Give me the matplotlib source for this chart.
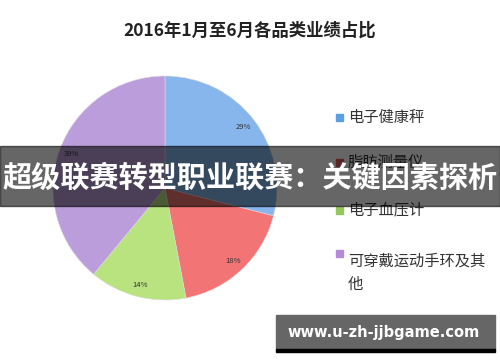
import matplotlib.pyplot as plt
from matplotlib.patches import Rectangle

plt.rcParams['font.family'] = ['Noto Sans CJK SC', 'DejaVu Sans']

# 数据
categories = ['电子健康秤', '脂肪测量仪', '电子血压计', '可穿戴运动手环及其\n他']
shares = [29, 18, 14, 39]
colors = ['#86b6ec', '#f27474', '#b9e37f', '#bb9ddb']
legend_colors = ['#5b9ee6', '#e05a5a', '#94c85a', '#b58ad8']
title = '2016年1月至6月各品类业绩占比'
banner = '超级联赛转型职业联赛：关键因素探析'
watermark = 'www.u-zh-jjbgame.com'

W, H = 500, 362
fig = plt.figure(figsize=(W / 100, H / 100), dpi=100)
fig.patch.set_facecolor('white')

# 饼图 (中心约在 165,188, 半径 112 px)
ax = fig.add_axes([53 / W, (H - 300) / H, 224 / W, 224 / H])
wedges, texts, autotexts = ax.pie(
    shares, colors=colors, startangle=90, counterclock=False,
    autopct='%d%%', pctdistance=0.89,
    wedgeprops=dict(edgecolor='#dddddd', linewidth=0.4),
    textprops=dict(fontsize=5.5, color='#333333'))
ax.set_xlim(-1.0, 1.0)
ax.set_ylim(-1.0, 1.0)
ax.set_aspect('equal')

fig.text(250 / W, 1 - 31 / H, title, ha='center', va='center',
         fontsize=12.5, fontweight='bold', color='#222222')

# 图例
legend_y = [117, 162, 210, 253]
for lab, c, y in zip(categories, legend_colors, legend_y):
    fig.patches.append(Rectangle((336 / W, 1 - (y + 4) / H), 7 / W, 7 / H,
                                 transform=fig.transFigure, color=c))
    fig.text(348 / W, 1 - y / H, lab, ha='left', va='top' if '\n' in lab else 'center',
             fontsize=11, color='#333333', linespacing=1.45,
             transform=fig.transFigure)

# 横幅
fig.patches.append(Rectangle((0, 1 - 206 / H), 1, 60 / H, transform=fig.transFigure,
                             color='black', alpha=0.6, zorder=5))
fig.text(250 / W, 1 - 178 / H, banner, ha='center', va='center', fontsize=21,
         fontweight='bold', color='white', zorder=6)

# 水印
fig.patches.append(Rectangle((276 / W, 1 - 349 / H), 219 / W, 34 / H,
                             transform=fig.transFigure, color='#666666', zorder=5))
fig.patches.append(Rectangle((276 / W, 1 - 352 / H), 219 / W, 3 / H,
                             transform=fig.transFigure, color='black', zorder=5))
fig.text(384 / W, 1 - 333 / H, watermark, ha='center', va='center', fontsize=10.5,
         fontweight='bold', color='white', zorder=6, family='DejaVu Sans')

fig.savefig('out.png', dpi=100)
